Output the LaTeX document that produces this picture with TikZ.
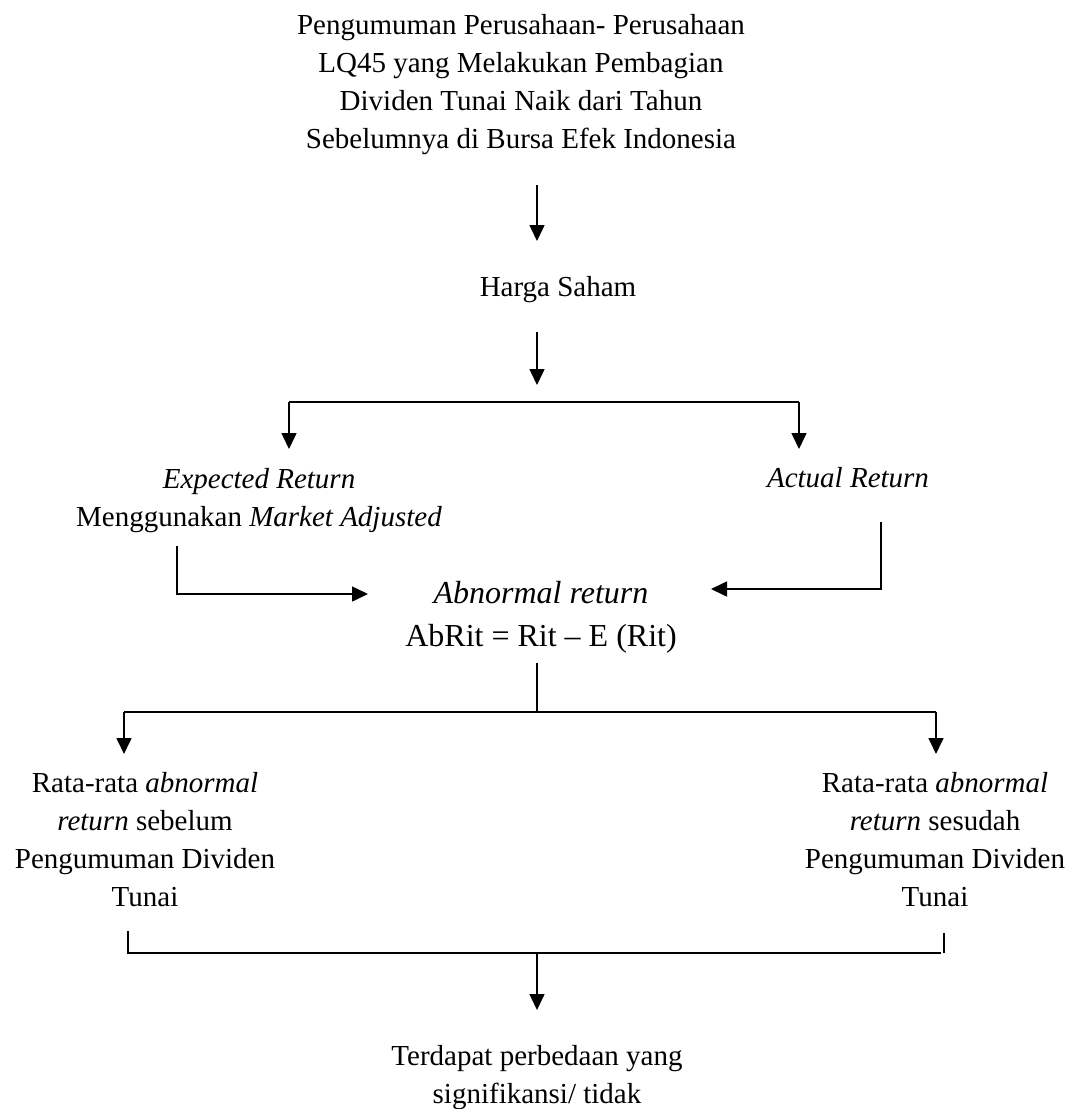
\documentclass[tikz,border=0pt]{standalone}
\usepackage{fontspec}
\setmainfont{Liberation Serif}
\usetikzlibrary{arrows.meta}
\begin{document}
\begin{tikzpicture}[x=1pt,y=-1pt,line width=1.6pt,
  arr/.style={-{Triangle[length=16pt,width=15pt]}},
  txt/.style={inner sep=0pt,align=center,anchor=base,font=\fontsize{29}{38}\selectfont},
  bigtxt/.style={inner sep=0pt,align=center,anchor=base,font=\fontsize{32}{43}\selectfont}]
\useasboundingbox (0,0) rectangle (1077,1109);

% texts (anchor = baseline of the last line)
\node[txt] (title) at (521,148) {Pengumuman Perusahaan- Perusahaan\\LQ45 yang Melakukan Pembagian\\Dividen Tunai Naik dari Tahun\\Sebelumnya di Bursa Efek Indonesia};
\node[txt] (harga) at (558,296) {Harga Saham};
\node[txt] (exp) at (259,526) {\textit{Expected Return}\\Menggunakan \textit{Market Adjusted}};
\node[txt] (act) at (848,487) {\textit{Actual Return}};
\node[bigtxt] (abn) at (541,646) {\textit{Abnormal return}\\AbRit = Rit – E (Rit)};
\node[txt] (sebelum) at (145,906) {Rata-rata \textit{abnormal}\\\textit{return} sebelum\\Pengumuman Dividen\\Tunai};
\node[txt] (sesudah) at (935,906) {Rata-rata \textit{abnormal}\\\textit{return} sesudah\\Pengumuman Dividen\\Tunai};
\node[txt] (hasil) at (537,1103) {Terdapat perbedaan yang\\signifikansi/ tidak};

% junction coordinates
\coordinate (a1s) at (537,185);
\coordinate (a1e) at (537,241);
\coordinate (a2s) at (537,332);
\coordinate (a2e) at (537,385);
\coordinate (sL) at (289,402);
\coordinate (sR) at (799,402);
\coordinate (sLe) at (289,449);
\coordinate (sRe) at (799,449);
\coordinate (eS) at (177,546);
\coordinate (eC) at (177,594);
\coordinate (eE) at (368,594);
\coordinate (rS) at (881,522);
\coordinate (rC) at (881,589);
\coordinate (rE) at (711,589);
\coordinate (vS) at (537,663);
\coordinate (vC) at (537,712);
\coordinate (hL) at (124,712);
\coordinate (hR) at (936,712);
\coordinate (hLe) at (124,754);
\coordinate (hRe) at (936,754);
\coordinate (bLt) at (128,931);
\coordinate (bL) at (128,953);
\coordinate (bR) at (941,953);
\coordinate (bRt) at (944,933);
\coordinate (bRb) at (944,953);
\coordinate (bM) at (537,953);
\coordinate (bMe) at (537,1010);

% connectors
\draw[arr] (a1s) -- (a1e);
\draw[arr] (a2s) -- (a2e);
\draw (sL) -- (sR);
\draw[arr] (sL) -- (sLe);
\draw[arr] (sR) -- (sRe);
\draw[arr] (eS) -- (eC) -- (eE);
\draw[arr] (rS) -- (rC) -- (rE);
\draw (vS) -- (vC);
\draw (hL) -- (hR);
\draw[arr] (hL) -- (hLe);
\draw[arr] (hR) -- (hRe);
\draw (bLt) -- (bL) -- (bR);
\draw (bRt) -- (bRb);
\draw[arr] (bM) -- (bMe);
\end{tikzpicture}
\end{document}
